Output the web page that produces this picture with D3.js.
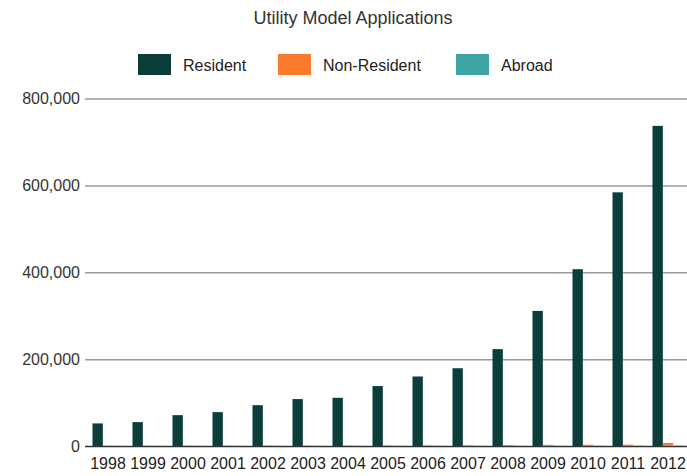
<!DOCTYPE html>
<html>
<head>
<meta charset="utf-8">
<title>Utility Model Applications</title>
<script src="https://d3js.org/d3.v7.min.js"></script>
<style>
  body { margin: 0; background: #fff; }
  svg { display: block; }
</style>
</head>
<body>
<svg id="chart"></svg>
<script>
// data
const years = ["1998","1999","2000","2001","2002","2003","2004","2005","2006","2007","2008","2009","2010","2011","2012"];
const series = ["Resident", "Non-Resident", "Abroad"];
const resident = [52000, 55000, 71000, 78000, 94000, 108000, 111000, 138000, 160000, 179000, 223000, 311000, 407000, 584000, 737000];
const nonResident = [600, 700, 800, 900, 1000, 1100, 1200, 1300, 1500, 1700, 2400, 2600, 2900, 3100, 7000];
const abroad = [100, 100, 100, 150, 150, 200, 200, 250, 300, 300, 350, 400, 450, 500, 600];
const yTicks = [0, 200000, 400000, 600000, 800000];
const colors = ["#0b3d3a", "#fb7a2c", "#3fa4a4"];

const W = 687, H = 476;
const font = "Liberation Sans, Arial, sans-serif";
const svg = d3.select("#chart").attr("width", W).attr("height", H);

const x = d3.scaleBand()
  .domain(years)
  .range([88, 688])
  .paddingInner(0.225)
  .paddingOuter(0.1125);
const xSub = d3.scaleBand().domain(series).range([0, x.bandwidth()]);
const y = d3.scaleLinear().domain([0, 800000]).range([446, 98.5]);
const color = d3.scaleOrdinal().domain(series).range(colors);

//Title
svg.append("text")
  .attr("x", 353)
  .attr("y", 24)
  .attr("text-anchor", "middle")
  .attr("font-family", font)
  .attr("font-size", 18)
  .attr("fill", "#333")
  .text("Utility Model Applications");

//Legend
const legendX = [138, 278, 456];
const legend = svg.selectAll(".legend")
  .data(series)
  .enter().append("g")
    .attr("class", "legend")
    .attr("transform", function(d, i) { return "translate(" + legendX[i] + ",54)"; });
legend.append("rect")
  .attr("width", 33)
  .attr("height", 21)
  .attr("fill", function(d) { return color(d); });
legend.append("text")
  .attr("x", 45)
  .attr("y", 17)
  .attr("font-family", font)
  .attr("font-size", 16)
  .attr("fill", "#222")
  .text(function(d) { return d; });

//Y axis with gridlines
const yAxis = svg.append("g")
  .attr("transform", "translate(85,0)")
  .call(d3.axisLeft(y).tickValues(yTicks).tickSize(-(W - 85)).tickPadding(5)
    .tickFormat(d3.format(",")));
yAxis.select(".domain").remove();
yAxis.selectAll(".tick line")
  .attr("stroke", function(d) { return d === 0 ? "#333" : "#9a9a9a"; })
  .attr("stroke-width", 1.5);
yAxis.selectAll(".tick text")
  .attr("font-family", font)
  .attr("font-size", 16)
  .attr("fill", "#333");

//Bars
const rows = years.map(function(yr, i) {
  return { year: yr, values: [resident[i], nonResident[i], abroad[i]] };
});
const group = svg.selectAll(".year")
  .data(rows)
  .enter().append("g")
    .attr("class", "year")
    .attr("transform", function(d) { return "translate(" + x(d.year) + ",0)"; });
group.selectAll("rect")
  .data(function(d) { return series.map(function(s, j) { return { key: s, value: d.values[j] }; }); })
  .enter().append("rect")
    .attr("x", function(d) { return xSub(d.key); })
    .attr("y", function(d) { return y(d.value); })
    .attr("width", xSub.bandwidth())
    .attr("height", function(d) { return y(0) - y(d.value); })
    .attr("fill", function(d) { return color(d.key); });

//X axis labels
const xAxis = svg.append("g")
  .attr("transform", "translate(0,446)")
  .call(d3.axisBottom(x).tickSize(0).tickPadding(12));
xAxis.select(".domain").remove();
xAxis.selectAll(".tick text")
  .attr("font-family", font)
  .attr("font-size", 16)
  .attr("fill", "#222");
</script>
</body>
</html>
